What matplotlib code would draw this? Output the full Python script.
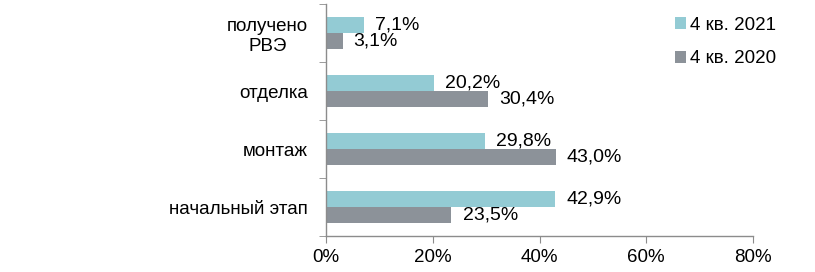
import matplotlib
matplotlib.use("Agg")
import matplotlib.pyplot as plt
import numpy as np

categories = ["начальный этап", "монтаж", "отделка", "получено\nРВЭ"]
series_names = ["4 кв. 2021", "4 кв. 2020"]
values_2021 = [42.9, 29.8, 20.2, 7.1]
values_2020 = [23.5, 43.0, 30.4, 3.1]
xticks = [0, 20, 40, 60, 80]
xtick_labels = ["0%", "20%", "40%", "60%", "80%"]

col_2021 = "#93CBD4"
col_2020 = "#8C9299"
spine_col = "#8C8C8C"

plt.rcParams['font.family'] = ['Liberation Sans', 'DejaVu Sans']
fig = plt.figure(figsize=(8.15, 2.72), dpi=100)
ax = fig.add_axes([326/815, 1-236/272, (753-326)/815, (236-4)/272])

y = np.arange(len(categories))
h = 0.28
b1 = ax.barh(y + h/2, values_2021, height=h, color=col_2021, label=series_names[0])
b2 = ax.barh(y - h/2, values_2020, height=h, color=col_2020, label=series_names[1])

def fmt(v):
    return f"{v:.1f}%".replace(".", ",")

fs = 13.5
vfs = 14
for yy, v in zip(y + h/2, values_2021):
    ax.annotate(fmt(v), (v, yy), xytext=(8, 0), textcoords="offset points",
                va="center", ha="left", fontsize=vfs)
for yy, v in zip(y - h/2, values_2020):
    ax.annotate(fmt(v), (v, yy), xytext=(8, 0), textcoords="offset points",
                va="center", ha="left", fontsize=vfs)

ax.set_xlim(0, 80)
ax.set_ylim(-0.5, len(categories) - 0.5)
ax.set_xticks(xticks)
ax.set_xticklabels(xtick_labels, fontsize=fs)
ax.set_yticks(y)
ax.set_yticklabels(categories, fontsize=fs, multialignment="center")
ax.set_yticks(np.arange(-0.5, len(categories), 1), minor=True)
ax.tick_params(axis="y", which="major", length=0, pad=13)
ax.tick_params(axis="y", which="minor", length=5, color=spine_col, direction="out")
ax.tick_params(axis="x", which="major", length=5, color=spine_col, direction="out", pad=4)

for s in ["top", "right"]:
    ax.spines[s].set_visible(False)
for s in ["left", "bottom"]:
    ax.spines[s].set_color(spine_col)
    ax.spines[s].set_linewidth(1)

fig.legend(handles=[b1, b2], loc="upper left", bbox_to_anchor=(675/815, 1-17/272),
           frameon=False, fontsize=fs, handlelength=0.6, handleheight=0.6,
           handletextpad=0.2, labelspacing=0.87, borderpad=0, borderaxespad=0)

fig.savefig("out.png", dpi=100)
